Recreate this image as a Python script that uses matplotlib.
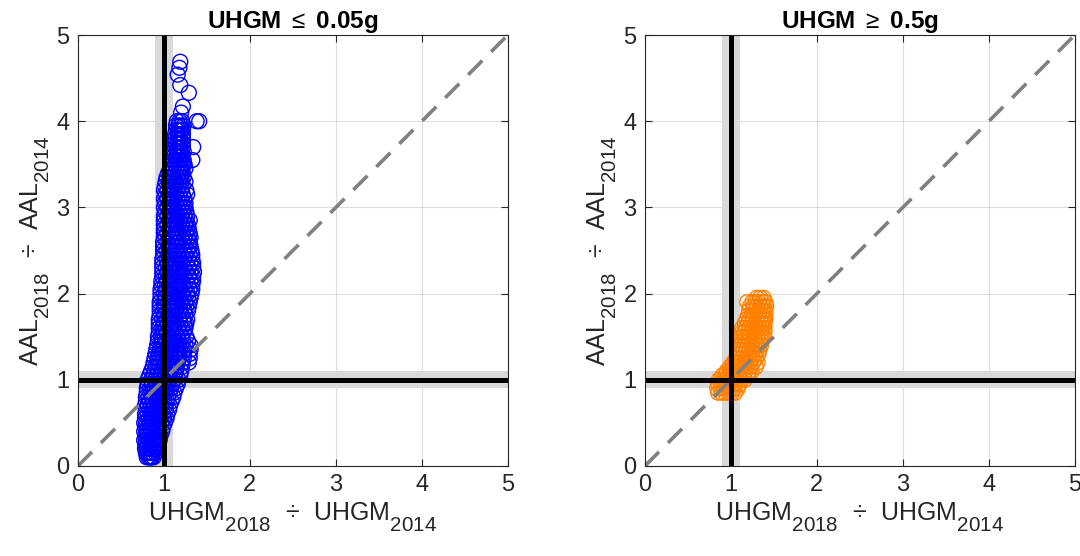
import matplotlib
matplotlib.use("Agg")
import matplotlib.pyplot as plt
import numpy as np

try:
    import matplotlib._mathtext as _mt
    _mt.SHRINK_FACTOR = 0.82
    _mt.FontConstantsBase.sub1 = 0.85
    _mt.FontConstantsBase.script_space = 0.1
except Exception:
    pass

plt.rcParams['font.family'] = ['Liberation Sans', 'DejaVu Sans']
plt.rcParams['mathtext.fontset'] = 'custom'
plt.rcParams['mathtext.rm'] = 'Liberation Sans'
plt.rcParams['mathtext.it'] = 'Liberation Sans:italic'
plt.rcParams['mathtext.bf'] = 'Liberation Sans:bold'

# ---------------- data ----------------
blue_row_y = [0.10, 0.15, 0.20, 0.25, 0.30, 0.35, 0.40, 0.45, 0.50, 0.55,
              0.60, 0.65, 0.70, 0.75, 0.80, 0.85, 0.90, 0.95, 1.00, 1.05,
              1.10, 1.15, 1.20, 1.25, 1.30, 1.35, 1.40, 1.45, 1.50, 1.55,
              1.60, 1.65, 1.70, 1.75, 1.80, 1.85, 1.90, 1.95, 2.00, 2.05,
              2.10, 2.15, 2.20, 2.25, 2.30, 2.35, 2.40, 2.45, 2.50, 2.55,
              2.60, 2.65, 2.70, 2.75, 2.80, 2.85, 2.90, 2.95, 3.00, 3.05,
              3.10, 3.15, 3.20, 3.25, 3.30, 3.35, 3.40, 3.45, 3.50, 3.55,
              3.60, 3.65, 3.70, 3.75, 3.80, 3.85, 3.90, 3.95, 4.00]
blue_row_x = [
    [0.80, 0.82, 0.84, 0.86, 0.88, 0.85],
    [0.79, 0.81, 0.84, 0.87, 0.90],
    [0.78, 0.80, 0.83, 0.85, 0.88, 0.90, 0.92],
    [0.78, 0.81, 0.84, 0.86, 0.89, 0.92, 0.94],
    [0.77, 0.79, 0.82, 0.85, 0.87, 0.90, 0.93, 0.95],
    [0.78, 0.81, 0.84, 0.87, 0.90, 0.93, 0.96],
    [0.77, 0.80, 0.82, 0.85, 0.88, 0.91, 0.94, 0.98],
    [0.78, 0.81, 0.84, 0.87, 0.90, 0.94, 0.99],
    [0.77, 0.79, 0.83, 0.86, 0.89, 0.93, 0.97, 1.01],
    [0.78, 0.82, 0.85, 0.88, 0.92, 0.96, 1.00, 1.03],
    [0.78, 0.81, 0.84, 0.87, 0.91, 0.95, 0.99, 1.04],
    [0.79, 0.83, 0.86, 0.90, 0.94, 0.98, 1.02, 1.06],
    [0.78, 0.81, 0.85, 0.89, 0.93, 0.97, 1.02, 1.07],
    [0.79, 0.83, 0.87, 0.91, 0.95, 1.00, 1.04, 1.09],
    [0.79, 0.82, 0.86, 0.90, 0.95, 0.99, 1.05, 1.11],
    [0.80, 0.84, 0.88, 0.93, 0.97, 1.02, 1.07, 1.12],
    [0.80, 0.84, 0.88, 0.92, 0.97, 1.02, 1.08, 1.14],
    [0.81, 0.86, 0.91, 0.96, 1.00, 1.05, 1.10, 1.16],
    [0.81, 0.85, 0.90, 0.95, 1.00, 1.05, 1.11, 1.17],
    [0.83, 0.88, 0.92, 0.97, 1.02, 1.07, 1.13, 1.19],
    [0.85, 0.89, 0.93, 0.98, 1.03, 1.08, 1.14, 1.20],
    [0.87, 0.91, 0.95, 1.00, 1.05, 1.10, 1.15, 1.21],
    [0.88, 0.92, 0.96, 1.01, 1.06, 1.11, 1.16, 1.22, 1.29],
    [0.89, 0.93, 0.98, 1.03, 1.08, 1.13, 1.18, 1.23, 1.30],
    [0.90, 0.94, 0.98, 1.03, 1.08, 1.13, 1.18, 1.23, 1.30],
    [0.91, 0.95, 0.99, 1.04, 1.09, 1.14, 1.19, 1.24, 1.31],
    [0.92, 0.96, 1.00, 1.05, 1.10, 1.15, 1.20, 1.25, 1.31],
    [0.93, 0.97, 1.02, 1.07, 1.12, 1.17, 1.22, 1.28],
    [0.93, 0.97, 1.01, 1.06, 1.11, 1.16, 1.21, 1.26],
    [0.94, 0.98, 1.03, 1.08, 1.13, 1.18, 1.23],
    [0.94, 0.98, 1.02, 1.07, 1.12, 1.17, 1.21, 1.25],
    [0.94, 0.99, 1.04, 1.09, 1.14, 1.19, 1.24, 1.26],
    [0.94, 0.98, 1.03, 1.08, 1.13, 1.18, 1.23, 1.27],
    [0.95, 1.00, 1.05, 1.10, 1.15, 1.20, 1.25],
    [0.95, 0.99, 1.04, 1.09, 1.14, 1.19, 1.24, 1.28],
    [0.95, 1.00, 1.06, 1.11, 1.16, 1.21, 1.26, 1.29],
    [0.95, 1.00, 1.05, 1.10, 1.15, 1.20, 1.25, 1.30],
    [0.96, 1.01, 1.07, 1.12, 1.18, 1.23, 1.28, 1.31],
    [0.96, 1.00, 1.05, 1.10, 1.16, 1.21, 1.27, 1.32],
    [0.96, 1.02, 1.08, 1.13, 1.19, 1.24, 1.30, 1.33],
    [0.97, 1.01, 1.06, 1.11, 1.17, 1.22, 1.28, 1.33],
    [0.97, 1.03, 1.09, 1.14, 1.20, 1.26, 1.31, 1.34],
    [0.98, 1.02, 1.07, 1.12, 1.18, 1.23, 1.29, 1.34],
    [0.98, 1.04, 1.10, 1.15, 1.21, 1.26, 1.31, 1.35],
    [0.98, 1.02, 1.07, 1.12, 1.18, 1.23, 1.29, 1.34],
    [0.98, 1.04, 1.10, 1.15, 1.21, 1.26, 1.31, 1.34],
    [0.98, 1.03, 1.08, 1.13, 1.18, 1.23, 1.28, 1.33],
    [0.99, 1.05, 1.10, 1.15, 1.20, 1.25, 1.30, 1.33],
    [0.99, 1.03, 1.08, 1.13, 1.18, 1.23, 1.28, 1.32],
    [0.99, 1.05, 1.10, 1.15, 1.20, 1.25, 1.29, 1.31],
    [0.99, 1.04, 1.09, 1.14, 1.18, 1.22, 1.26, 1.30],
    [1.00, 1.06, 1.11, 1.16, 1.20, 1.24, 1.28, 1.31],
    [1.00, 1.04, 1.09, 1.14, 1.18, 1.22, 1.26, 1.30],
    [1.00, 1.06, 1.11, 1.15, 1.19, 1.23, 1.27, 1.29],
    [1.00, 1.04, 1.09, 1.13, 1.17, 1.21, 1.25, 1.28],
    [1.00, 1.06, 1.10, 1.14, 1.18, 1.22, 1.26, 1.30],
    [1.00, 1.04, 1.08, 1.12, 1.16, 1.20, 1.24, 1.27],
    [1.01, 1.06, 1.10, 1.14, 1.18, 1.22, 1.26],
    [1.00, 1.04, 1.08, 1.12, 1.16, 1.20, 1.23, 1.25],
    [1.01, 1.06, 1.10, 1.14, 1.18, 1.22, 1.25],
    [1.00, 1.04, 1.08, 1.12, 1.16, 1.20, 1.24],
    [1.01, 1.06, 1.10, 1.14, 1.18, 1.22, 1.27],
    [1.00, 1.04, 1.08, 1.12, 1.16, 1.20, 1.26],
    [1.01, 1.06, 1.10, 1.14, 1.18, 1.22],
    [1.02, 1.06, 1.10, 1.14, 1.18, 1.21, 1.25],
    [1.03, 1.08, 1.12, 1.16, 1.20, 1.23],
    [1.05, 1.09, 1.13, 1.17, 1.20, 1.22],
    [1.08, 1.11, 1.15, 1.18, 1.21, 1.25],
    [1.10, 1.13, 1.16, 1.19, 1.22, 1.24],
    [1.11, 1.14, 1.17, 1.20, 1.23, 1.33],
    [1.12, 1.15, 1.18, 1.20, 1.22],
    [1.12, 1.15, 1.18, 1.21, 1.23],
    [1.13, 1.16, 1.19, 1.22, 1.34],
    [1.13, 1.16, 1.19, 1.22],
    [1.13, 1.16, 1.19, 1.22],
    [1.13, 1.16, 1.19, 1.22],
    [1.14, 1.17, 1.20, 1.22],
    [1.14, 1.17, 1.20, 1.23],
    [1.15, 1.18, 1.21, 1.38, 1.41],
]
blue_top_x = [1.20, 1.22, 1.29, 1.19, 1.16, 1.18, 1.19]
blue_top_y = [4.10, 4.17, 4.33, 4.42, 4.54, 4.62, 4.69]

orange_row_y = [0.85, 0.90, 0.95, 1.00, 1.05, 1.10, 1.15, 1.20, 1.25, 1.30,
                1.35, 1.40, 1.45, 1.50, 1.55, 1.60, 1.65, 1.70, 1.75, 1.80,
                1.85, 1.90, 1.95]
orange_row_x = [
    [0.85, 0.89, 0.93, 0.97, 1.01, 1.05],
    [0.84, 0.88, 0.92, 0.96, 1.00, 1.04, 1.08],
    [0.85, 0.89, 0.93, 0.97, 1.01, 1.05, 1.10],
    [0.86, 0.90, 0.94, 0.98, 1.02, 1.07, 1.12, 1.16],
    [0.90, 0.94, 0.98, 1.02, 1.06, 1.10, 1.15, 1.20],
    [0.95, 0.99, 1.03, 1.07, 1.11, 1.16, 1.21, 1.24],
    [0.99, 1.02, 1.06, 1.10, 1.14, 1.18, 1.23, 1.29],
    [1.03, 1.06, 1.10, 1.14, 1.18, 1.22, 1.26, 1.31],
    [1.06, 1.09, 1.13, 1.17, 1.21, 1.25, 1.29],
    [1.09, 1.12, 1.16, 1.20, 1.24, 1.28, 1.32],
    [1.10, 1.14, 1.18, 1.22, 1.26, 1.30, 1.33],
    [1.12, 1.16, 1.20, 1.24, 1.28, 1.32, 1.35],
    [1.13, 1.17, 1.21, 1.25, 1.29, 1.33, 1.36],
    [1.12, 1.15, 1.19, 1.23, 1.27, 1.31, 1.35, 1.38],
    [1.13, 1.16, 1.20, 1.24, 1.28, 1.32, 1.36, 1.39],
    [1.13, 1.17, 1.21, 1.25, 1.29, 1.33, 1.37, 1.39],
    [1.16, 1.20, 1.24, 1.28, 1.32, 1.36, 1.39],
    [1.18, 1.22, 1.26, 1.30, 1.34, 1.38, 1.40],
    [1.20, 1.24, 1.28, 1.32, 1.36, 1.40],
    [1.21, 1.25, 1.29, 1.33, 1.37, 1.40],
    [1.22, 1.26, 1.30, 1.34, 1.38, 1.41],
    [1.19, 1.25, 1.29, 1.33, 1.37, 1.40],
    [1.30, 1.34, 1.38],
]

titles = [r'UHGM $\leq$ 0.05g', r'UHGM $\geq$ 0.5g']
xlabel = r'UHGM$_{2018}$  ÷  UHGM$_{2014}$'
ylabel = r'AAL$_{2018}$  ÷  AAL$_{2014}$'
ticks = [0, 1, 2, 3, 4, 5]


def flatten(row_y, row_x):
    xs, ys = [], []
    for y, row in zip(row_y, row_x):
        xs.extend(row)
        ys.extend([y] * len(row))
    return np.array(xs), np.array(ys)


bx, by = flatten(blue_row_y, blue_row_x)
bx = np.concatenate([bx, blue_top_x])
by = np.concatenate([by, blue_top_y])
ox, oy = flatten(orange_row_y, orange_row_x)

fig = plt.figure(figsize=(10.8, 5.56), dpi=100)
ax_pos = [[0.0722, 0.162, 0.398, 0.775], [0.5972, 0.162, 0.398, 0.775]]
datasets = [(bx, by, (0, 0, 1)), (ox, oy, (1, 0.5, 0))]
txt = (0.15, 0.15, 0.15)

for pos, (x, y, col), title in zip(ax_pos, datasets, titles):
    ax = fig.add_axes(pos)
    ax.set_xlim(0, 5)
    ax.set_ylim(0, 5)
    ax.grid(True, color=(0.15, 0.15, 0.15), alpha=0.15, linewidth=0.8)
    ax.set_axisbelow(True)
    ax.axvspan(0.9, 1.1, color=(0.85, 0.85, 0.85), zorder=1, lw=0)
    ax.axhspan(0.9, 1.1, color=(0.85, 0.85, 0.85), zorder=1, lw=0)
    ax.scatter(x, y, s=115, facecolors='none', edgecolors=[col],
               linewidths=1.0, zorder=2)
    ax.plot([0, 5], [0, 5], color=(0.5, 0.5, 0.5), lw=2.6,
            linestyle=(0, (5.5, 3.5)), zorder=3)
    ax.axvline(1, color='k', lw=3.6, zorder=4)
    ax.axhline(1, color='k', lw=3.6, zorder=4)
    ax.set_xticks(ticks)
    ax.set_yticks(ticks)
    ax.tick_params(direction='in', length=5, width=0.8, labelsize=17,
                   colors=txt, top=True, right=True, pad=6)
    for sp in ax.spines.values():
        sp.set_color(txt)
        sp.set_linewidth(0.8)
        sp.set_zorder(5)
    ax.set_title(title, fontsize=17.5, fontweight='bold', color='k', pad=5)
    ax.set_xlabel(xlabel, fontsize=18, color=txt, labelpad=3)
    ax.set_ylabel(ylabel, fontsize=18, color=txt, labelpad=3)

fig.savefig('out.png', dpi=100)
